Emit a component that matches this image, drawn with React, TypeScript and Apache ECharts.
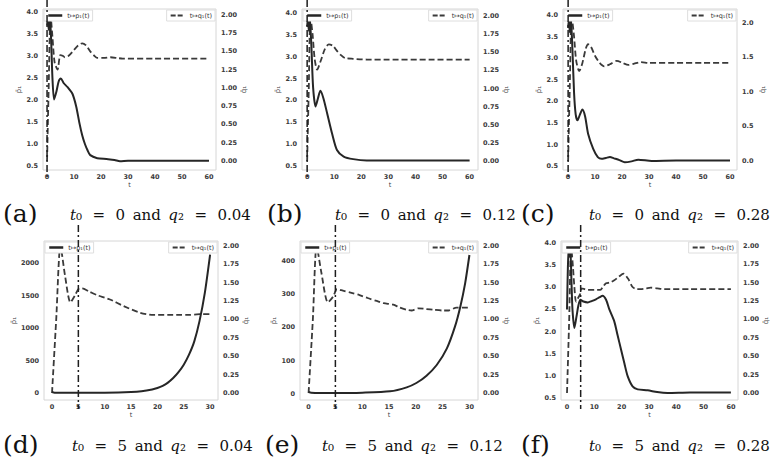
import React, { useEffect, useRef } from "react";
import * as echarts from "echarts";

const W = 778;
const H = 472;

// ---- tick label values ----
const xTicks60 = [0, 10, 20, 30, 40, 50, 60];
const xTicks30 = [0, 5, 10, 15, 20, 25, 30];
const pTicks = [0.5, 1.0, 1.5, 2.0, 2.5, 3.0, 3.5, 4.0];
const qTicks = [0, 0.25, 0.5, 0.75, 1.0, 1.25, 1.5, 1.75, 2.0];
const qTicksC = [0, 0.5, 1.0, 1.5, 2.0];
const pTicksD = [0, 500, 1000, 1500, 2000];
const pTicksE = [0, 100, 200, 300, 400];

// ---- captions ----
const panelLetters = ["a", "b", "c", "d", "e", "f"];
const t0Values = [0, 0, 0, 5, 5, 5];
const q2Labels = ["0.04", "0.12", "0.28", "0.04", "0.12", "0.28"];

const P_NAME = "t↦p₁(t)";
const Q_NAME = "t↦q₁(t)";

// ---- series data: [t, value] ----
const solidA: [number, number][] = [[0, 3.7], [0.3, 3.9], [0.6, 3.6], [0.9, 3.9], [1.2, 3.75], [1.5, 3.4], [2.0, 2.5], [2.6, 2.01], [3.5, 2.2], [4.3, 2.42], [5.1, 2.49], [6.2, 2.38], [7.6, 2.29], [9.4, 2.14], [10.8, 1.85], [12, 1.47], [13, 1.2], [14, 1.0], [15, 0.85], [16, 0.74], [18.6, 0.67], [22, 0.65], [25, 0.63], [27, 0.6], [30, 0.61], [40, 0.61], [50, 0.61], [60, 0.61]];
const dashA: [number, number][] = [[0, 0], [0.6, 1.0], [1.3, 2.0], [2.0, 1.7], [2.8, 1.35], [3.9, 1.25], [4.9, 1.45], [5.8, 1.44], [6.6, 1.42], [8, 1.44], [10, 1.52], [11.5, 1.58], [13, 1.61], [14.5, 1.58], [16, 1.5], [17.5, 1.44], [18.6, 1.41], [21, 1.41], [23.5, 1.42], [26, 1.41], [28, 1.4], [40, 1.4], [60, 1.4]];

const solidB: [number, number][] = [[0, 3.7], [0.3, 3.9], [0.6, 3.6], [0.9, 3.9], [1.2, 3.7], [1.6, 3.2], [2.2, 2.3], [3.1, 1.86], [4.0, 2.05], [4.9, 2.22], [6.0, 2.05], [7.4, 1.7], [9.2, 1.24], [11, 0.86], [13.5, 0.71], [17, 0.65], [22, 0.62], [30, 0.62], [40, 0.62], [60, 0.62]];
const dashB: [number, number][] = [[0, 0], [0.6, 1.0], [1.2, 2.0], [2.0, 1.75], [2.8, 1.4], [3.7, 1.26], [5, 1.38], [6.5, 1.54], [8, 1.61], [9.5, 1.59], [11, 1.52], [12.5, 1.46], [14, 1.42], [17, 1.41], [22, 1.4], [30, 1.4], [45, 1.4], [60, 1.4]];

const solidC: [number, number][] = [[0, 3.7], [0.3, 3.9], [0.6, 3.6], [0.9, 3.9], [1.2, 3.75], [1.6, 3.2], [2.2, 2.2], [2.8, 1.7], [3.5, 1.56], [4.4, 1.7], [5.3, 1.81], [6.3, 1.65], [7.4, 1.25], [9.3, 0.9], [11, 0.71], [12.4, 0.67], [14, 0.69], [15.5, 0.71], [17, 0.68], [19, 0.64], [21, 0.59], [23.5, 0.61], [26, 0.65], [31, 0.62], [40, 0.63], [50, 0.63], [60, 0.63]];
const dashC: [number, number][] = [[0, 0], [0.6, 1.05], [1.3, 2.1], [2.2, 1.8], [3.0, 1.45], [4.1, 1.3], [5.3, 1.42], [6.5, 1.62], [7.4, 1.69], [8.5, 1.65], [10, 1.52], [11.7, 1.42], [13.4, 1.37], [15.5, 1.4], [18, 1.45], [20.2, 1.42], [22.3, 1.39], [24.5, 1.41], [27, 1.43], [30, 1.42], [40, 1.42], [50, 1.42], [60, 1.42]];

const solidD: [number, number][] = [[0, 15], [0.5, 5], [2, 3], [5, 3], [10, 5], [15, 16], [17, 28], [19, 55], [20, 77], [21, 110], [22, 160], [23, 230], [24, 320], [25, 435], [26, 590], [27, 795], [28, 1110], [29, 1540], [30, 2130]];
const dashD: [number, number][] = [[0, 0], [0.8, 1.0], [1.6, 2.0], [2.5, 1.58], [3.5, 1.23], [4.4, 1.33], [5.0, 1.41], [5.7, 1.42], [7, 1.38], [8.5, 1.33], [11, 1.27], [13.6, 1.18], [16.7, 1.09], [19.3, 1.06], [22, 1.06], [24.3, 1.06], [26, 1.06], [28, 1.07], [30, 1.07]];

const solidE: [number, number][] = [[0, 6], [0.5, 4], [2, 3], [5, 3], [10, 4], [15.2, 8], [18.3, 20], [20.1, 33], [22, 55], [23.9, 87], [25.8, 137], [27.3, 202], [28.3, 262], [29.2, 332], [30, 417]];
const dashE: [number, number][] = [[0, 0], [0.8, 1.0], [1.5, 2.0], [2.4, 1.63], [3.6, 1.23], [4.6, 1.31], [5.3, 1.41], [6.4, 1.39], [8, 1.36], [9.5, 1.33], [11, 1.29], [12.7, 1.25], [14, 1.22], [15.8, 1.2], [17, 1.16], [18.3, 1.13], [19.2, 1.12], [20.5, 1.15], [22, 1.14], [23.3, 1.13], [25, 1.12], [26.1, 1.12], [27.6, 1.16], [29, 1.16], [30, 1.16]];

const solidF: [number, number][] = [[0, 2.5], [0.3, 3.4], [0.6, 3.9], [0.9, 3.7], [1.2, 3.9], [1.6, 3.2], [2.0, 2.5], [2.7, 2.08], [3.5, 2.35], [4.2, 2.6], [4.9, 2.72], [6, 2.68], [7.6, 2.66], [9, 2.69], [10.6, 2.73], [12, 2.78], [13, 2.81], [14.3, 2.72], [15.5, 2.5], [17.3, 2.23], [18.5, 1.92], [19.8, 1.59], [21, 1.28], [22.2, 0.99], [24, 0.76], [25.9, 0.69], [29.5, 0.67], [33, 0.63], [36.8, 0.61], [45, 0.62], [60, 0.62]];
const dashF: [number, number][] = [[0, 0], [0.8, 1.0], [1.5, 2.0], [2.2, 1.7], [2.7, 1.44], [3.3, 1.24], [4.2, 1.3], [4.9, 1.35], [5.3, 1.42], [6.5, 1.41], [7.6, 1.4], [10, 1.4], [12.2, 1.4], [13.3, 1.45], [14.3, 1.49], [15.8, 1.5], [17.3, 1.53], [19, 1.58], [20.7, 1.62], [22.4, 1.55], [24, 1.44], [25.5, 1.41], [27, 1.41], [29, 1.42], [30.7, 1.43], [33, 1.42], [35.6, 1.41], [45, 1.41], [60, 1.41]];

const solids = [solidA, solidB, solidC, solidD, solidE, solidF];
const dashes = [dashA, dashB, dashC, dashD, dashE, dashF];

// ---- layout (pixels) and axis ranges ----
const layout = [
  { l: 43, r: 216, t: 9, b: 170, xMin: -1.5, xMax: 62.6, pMin: 0.4, pMax: 4.075, qMin: -0.123, qMax: 2.08, xt: xTicks60, pt: pTicks, qt: qTicks, pDec: 1, qDec: 2, extT: 9, extB: 8, pGap: 21, capX: 3, fX: 70, capY: 213 },
  { l: 302, r: 478, t: 9, b: 170, xMin: -1.9, xMax: 63.1, pMin: 0.4, pMax: 4.1, qMin: -0.124, qMax: 2.097, xt: xTicks60, pt: pTicks, qt: qTicks, pDec: 1, qDec: 2, extT: 9, extB: 8, pGap: 21, capX: 267, fX: 335, capY: 213 },
  { l: 563, r: 737, t: 9, b: 170, xMin: -1.9, xMax: 62.6, pMin: 0.41, pMax: 4.14, qMin: -0.13, qMax: 2.2, xt: xTicks60, pt: pTicks, qt: qTicksC, pDec: 1, qDec: 1, extT: 9, extB: 8, pGap: 20, capX: 521, fX: 589, capY: 213 },
  { l: 44, r: 218, t: 241, b: 400, xMin: -1.52, xMax: 31.5, pMin: -108, pMax: 2340, qMin: -0.095, qMax: 2.064, xt: xTicks30, pt: pTicksD, qt: qTicks, pDec: 0, qDec: 2, extT: 16, extB: 9, pGap: 23, capX: 3, fX: 72, capY: 444 },
  { l: 300, r: 478, t: 241, b: 400, xMin: -1.6, xMax: 31.6, pMin: -18, pMax: 459, qMin: -0.095, qMax: 2.064, xt: xTicks30, pt: pTicksE, qt: qTicks, pDec: 0, qDec: 2, extT: 16, extB: 9, pGap: 19, capX: 265, fX: 322, capY: 444 },
  { l: 561, r: 738, t: 241, b: 400, xMin: -2.2, xMax: 62.6, pMin: 0.45, pMax: 4.05, qMin: -0.095, qMax: 2.064, xt: xTicks60, pt: pTicks, qt: qTicks, pDec: 1, qDec: 2, extT: 16, extB: 9, pGap: 18, capX: 521, fX: 589, capY: 444 },
];

const TXT = "#3a3a3a";
const SOLID_C = "#262626";
const DASH_C = "#3a3a3a";
const labelStyle = { fontSize: 6.5, color: TXT, fontWeight: "bold" as const, fontFamily: "DejaVu Sans" };

function buildOption() {
  const grid = layout.map((g) => ({
    left: g.l,
    top: g.t,
    width: g.r - g.l,
    height: g.b - g.t,
    show: true,
    borderColor: "#d6d6d6",
    borderWidth: 1,
    backgroundColor: "#fff",
  }));

  const xAxis = layout.map((g, i) => ({
    type: "value",
    gridIndex: i,
    min: g.xMin,
    max: g.xMax,
    name: "t",
    nameLocation: "middle",
    nameGap: 11,
    nameTextStyle: { fontSize: 6.5, color: TXT },
    axisLine: { show: false },
    axisTick: { show: false },
    splitLine: { show: false },
    axisLabel: { ...labelStyle, margin: 3, customValues: g.xt, formatter: (v: number) => String(Math.round(v)) },
  }));

  const yAxis: any[] = [];
  layout.forEach((g, i) => {
    yAxis.push({
      type: "value",
      gridIndex: i,
      position: "left",
      min: g.pMin,
      max: g.pMax,
      name: "p̄₁",
      nameLocation: "middle",
      nameRotate: 90,
      nameGap: g.pGap,
      nameTextStyle: { fontSize: 7, color: TXT },
      axisLine: { show: false },
      axisTick: { show: false },
      splitLine: { show: false },
      axisLabel: { ...labelStyle, margin: 5, customValues: g.pt, formatter: (v: number) => v.toFixed(g.pDec) },
    });
    yAxis.push({
      type: "value",
      gridIndex: i,
      position: "right",
      min: g.qMin,
      max: g.qMax,
      name: "q̄₁",
      nameLocation: "middle",
      nameRotate: 90,
      nameGap: 22,
      nameTextStyle: { fontSize: 7, color: TXT },
      axisLine: { show: false },
      axisTick: { show: false },
      splitLine: { show: false },
      axisLabel: { ...labelStyle, margin: 5, customValues: g.qt, formatter: (v: number) => v.toFixed(g.qDec) },
    });
  });

  const series: any[] = [];
  layout.forEach((g, i) => {
    series.push({
      type: "line",
      name: P_NAME,
      xAxisIndex: i,
      yAxisIndex: 2 * i,
      data: solids[i],
      symbol: "none",
      showSymbol: false,
      smooth: 0.25,
      lineStyle: { color: SOLID_C, width: 2 },
      itemStyle: { color: SOLID_C },
      z: 3,
    });
    series.push({
      type: "line",
      name: Q_NAME,
      xAxisIndex: i,
      yAxisIndex: 2 * i + 1,
      data: dashes[i],
      symbol: "none",
      showSymbol: false,
      smooth: 0.25,
      lineStyle: { color: DASH_C, width: 1.8, type: [6, 3] },
      itemStyle: { color: DASH_C },
      z: 2,
    });
    series.push({
      type: "custom",
      xAxisIndex: i,
      yAxisIndex: 2 * i,
      data: [[t0Values[i], g.pMin]],
      clip: false,
      silent: true,
      z: 4,
      renderItem: (params: any, api: any) => {
        const x = api.coord([api.value(0), api.value(1)])[0];
        const cs = params.coordSys;
        return {
          type: "line",
          shape: { x1: x, y1: cs.y - g.extT, x2: x, y2: cs.y + cs.height + g.extB },
          style: { stroke: "#1e1e1e", lineWidth: 1.5, lineDash: [7, 3, 2, 3] },
        };
      },
    });
  });

  const legendBase = {
    orient: "horizontal",
    itemWidth: 14,
    itemHeight: 5,
    padding: [2, 3],
    borderColor: "#dedede",
    borderWidth: 1,
    backgroundColor: "#fff",
    selectedMode: false,
    itemStyle: { opacity: 0, borderWidth: 0 },
    textStyle: { fontSize: 6.5, color: "#333", fontFamily: "DejaVu Sans" },
  };
  const legend: any[] = [];
  layout.forEach((g) => {
    legend.push({
      ...legendBase,
      data: [P_NAME],
      left: g.l + 1,
      top: g.t + 1,
      lineStyle: { color: SOLID_C, width: 2.5, type: "solid" },
    });
    legend.push({
      ...legendBase,
      data: [Q_NAME],
      right: W - g.r + 1,
      top: g.t + 1,
      lineStyle: { color: DASH_C, width: 2, type: [5, 2] },
    });
  });

  const graphic: any[] = [];
  layout.forEach((g, i) => {
    graphic.push({
      type: "text",
      x: g.capX,
      y: g.capY,
      style: {
        text: `(${panelLetters[i]})`,
        fontFamily: "DejaVu Serif",
        fontSize: 25,
        fill: "#111",
        verticalAlign: "middle",
      },
    });
    graphic.push({
      type: "text",
      x: g.fX,
      y: g.capY + 2,
      style: {
        text: `{i|t}₀\u2002\u2009=\u2002\u2009${t0Values[i]}\u2002and\u2002{i|q}₂\u2002\u2009=\u2002\u2009${q2Labels[i]}`,
        fontFamily: "DejaVu Serif",
        fontSize: 15,
        fill: "#111",
        verticalAlign: "middle",
        rich: {
          i: { fontFamily: "DejaVu Serif", fontStyle: "italic", fontSize: 15, fill: "#111" },
        },
      },
    });
  });

  return {
    animation: false,
    backgroundColor: "#fff",
    textStyle: { fontFamily: "DejaVu Sans" },
    grid,
    xAxis,
    yAxis,
    series,
    legend,
    graphic,
  };
}

export default function App() {
  const ref = useRef<HTMLDivElement>(null);
  useEffect(() => {
    if (!ref.current) return;
    const chart = echarts.init(ref.current, undefined, { renderer: "svg" });
    chart.setOption(buildOption() as any);
    return () => {
      chart.dispose();
    };
  }, []);
  return (
    <div
      ref={ref}
      style={{ position: "fixed", left: 0, top: 0, width: W, height: H, background: "#fff" }}
    />
  );
}
